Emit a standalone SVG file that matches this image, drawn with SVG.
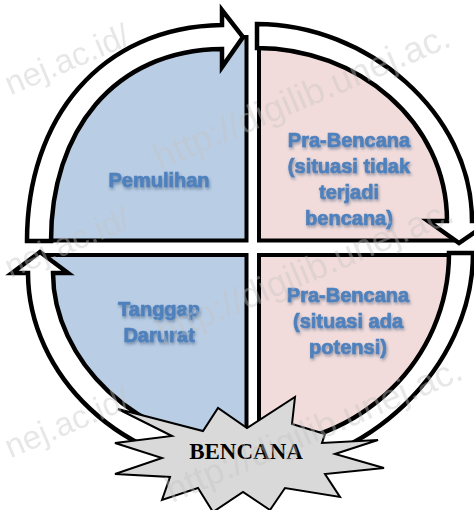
<svg xmlns="http://www.w3.org/2000/svg" width="474" height="510" viewBox="0 0 474 510">
<defs>
<filter id="sh" x="-20%" y="-40%" width="140%" height="180%">
<feGaussianBlur in="SourceAlpha" stdDeviation="1.5"/>
<feOffset dx="1" dy="2" result="b"/>
<feFlood flood-color="#1f3a5f" flood-opacity="0.45"/>
<feComposite in2="b" operator="in" result="s"/>
<feMerge><feMergeNode in="s"/><feMergeNode in="SourceGraphic"/></feMerge>
</filter>
</defs>
<style>
.blue{fill:#b9cde5;stroke:#000;stroke-width:4;stroke-linejoin:miter}
.pink{fill:#f2dcdb;stroke:#000;stroke-width:4;stroke-linejoin:miter}
.arrow{fill:#fff;stroke:#000;stroke-width:4.5;stroke-linejoin:miter}
.lbl{font-family:"Liberation Sans",Arial,sans-serif;font-weight:bold;font-size:20px;fill:#4f81bd;stroke:#4f81bd;stroke-width:0.7;text-anchor:middle;filter:url(#sh)}
.star{fill:#d9d9d9;stroke:#000;stroke-width:2;stroke-linejoin:miter}
.bt{font-family:"Liberation Serif","Times New Roman",serif;font-weight:bold;font-size:23px;fill:#000;text-anchor:middle}
.wm{font-family:"Liberation Sans",Arial,sans-serif;font-size:36px;fill:#c4c4c4;opacity:0.4}
.wms{font-size:33px}
</style>
<rect width="474" height="510" fill="#fff"/>

<g id="node-pemulihan">
<path class="blue" d="M246.5,240.5 L246.5,37 C110,38 39,125 39,240.5 Z"/>
<text class="lbl" x="159" y="187">Pemulihan</text>
</g>

<g id="node-prabencana-tidak">
<path class="pink" d="M259,240.5 L259,36 C362,36 460,117 460,240.5 Z"/>
<text class="lbl" x="349" y="147">Pra-Bencana</text>
<text class="lbl" x="349" y="173">(situasi tidak</text>
<text class="lbl" x="349" y="199">terjadi</text>
<text class="lbl" x="349" y="225">bencana)</text>
</g>

<g id="node-prabencana-potensi">
<path class="pink" d="M259,255 L461,255 C461,368 368,458 259,458 Z"/>
<text class="lbl" x="348" y="302">Pra-Bencana</text>
<text class="lbl" x="348" y="328">(situasi ada</text>
<text class="lbl" x="348" y="354">potensi)</text>
</g>

<g id="node-tanggap">
<path class="blue" d="M246.5,255 L40,255 C40,365 135,458 246.5,458 Z"/>
<text class="lbl" x="159" y="316">Tanggap</text>
<text class="lbl" x="159" y="342">Darurat</text>
</g>

<g id="connectors">
<path class="arrow" d="M27,241 C27,119 100,27 222,25 L222,10 L243,37 L222,67 L222,49 C113,50 51,132 51,241 Z"/>
<path class="arrow" d="M257,24 C366,24 472,112 472,221 L491,221 L459,243 L428,221 L447,221 C447,121 357,48 257,48 Z"/>
<path class="arrow" d="M473,253 L449,253 C449,360 360,446 250,446 L250,470 C365,470 473,368 473,253 Z"/>
<path class="arrow" d="M250,470 C120,470 28,373 28,273 L12,273 L40,252 L68,273 L53,273 C53,358 135,446 250,446 Z"/>
</g>

<g id="node-bencana">
<polygon class="star" points="118,409 203,431 218,408 247,428 295,397 292,424 325,434 322,443 378,440 335,454 384,468 325,474 340,497 285,488 270,510 243,492 213,512 198,488 162,500 170,477 115,474 162,458 115,443 172,436"/>
<text class="bt" x="246" y="459">BENCANA</text>
</g>

<g id="watermark">
<text class="wm wms" x="132" y="44" text-anchor="end" transform="rotate(-23 132 44)">nej.ac.id/</text>
<text class="wm" x="160" y="170" transform="rotate(-23 160 170)">http://digilib.unej.ac.</text>
<text class="wm wms" x="132" y="227" text-anchor="end" transform="rotate(-23 132 227)">nej.ac.id/</text>
<text class="wm" x="163" y="345" transform="rotate(-23 163 345)">http://digilib.unej.ac.</text>
<text class="wm wms" x="132" y="407" text-anchor="end" transform="rotate(-23 132 407)">nej.ac.id/</text>
<text class="wm" x="172" y="503" transform="rotate(-23 172 503)">http://digilib.unej.ac.</text>
</g>
</svg>
